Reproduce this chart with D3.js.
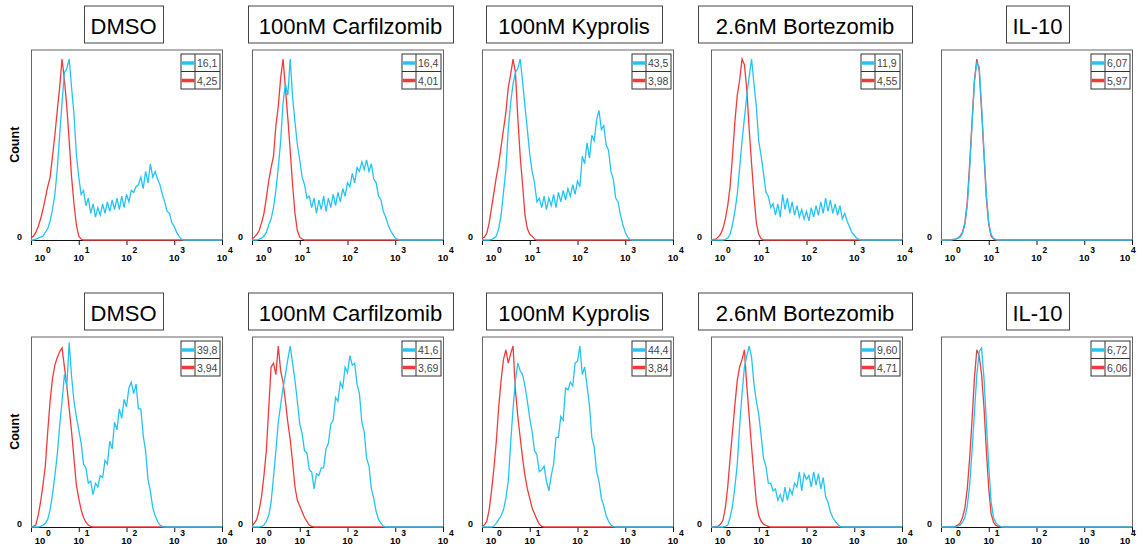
<!DOCTYPE html>
<html>
<head>
<meta charset="utf-8">
<script src="https://cdn.jsdelivr.net/npm/d3@7"></script>
<style>
  body { margin: 0; background: #fff; }
  text { font-family: "Liberation Sans", Arial, sans-serif; }
</style>
</head>
<body>
<script>
// histogram bins: index i sits at log10(x) = i * binStep, counts in % of max
const binStep = 0.05;

const titles = ["DMSO", "100nM Carfilzomib", "100nM Kyprolis", "2.6nM Bortezomib", "IL-10"];
const row1BlueMfi = ["16,1", "16,4", "43,5", "11,9", "6,07"];
const row1RedMfi = ["4,25", "4,01", "3,98", "4,55", "5,97"];
const row2BlueMfi = ["39,8", "41,6", "44,4", "9,60", "6,72"];
const row2RedMfi = ["3,94", "3,69", "3,84", "4,71", "6,06"];
const decades = [0, 1, 2, 3, 4];

// row 1
const dmsoRed1 = [1,2,4,7,11,16,22,28,33,44,55,68,80,95,84,70,52,33,19,8,2,0.5];
const dmsoBlue1 = [0,0,0.5,1,1.5,2,4,6,10,16,24,37,55,72,88,90,95,80,66,45,33,24,26,18,22,14,19,12,17,13,19,14,20,15,21,16,22,16,23,17,24,20,26,25,28,29,33,27,36,30,40,33,36,32,29,24,20,15,14,9,7,4,2,0.5];
const carfRed1 = [0.5,1.5,3,5,9,14,22,31,38,44,60,70,85,95,80,64,47,29,14,5,1.5,0.5];
const carfBlue1 = [0,0,0,0.5,1,2,4,8,11,17,26,38,52,72,82,76,95,75,62,50,42,33,29,22,23,17,22,14,21,16,23,15,22,17,24,18,25,20,27,23,30,28,35,30,38,36,41,37,42,36,40,32,30,23,21,15,12,8,5,3,1,0.3];
const kypRed1 = [1,1.5,3.5,9,17,25,33,40,49,58,67,80,87,95,88,64,44,29,13,6,3,2,0.5];
const kypBlue1 = [0,0,0,0,0.3,1,2,6,13,25,37,58,72,82,88,90,95,83,70,58,45,36,30,20,22,17,23,16,22,18,24,17,25,20,26,21,27,23,29,24,31,28,44,40,51,43,55,52,63,68,58,60,50,47,36,32,22,20,13,8,4,1.5,0.3];
const bortRed1 = [0,0.3,0.5,1.5,3,6,11,18,28,44,62,76,84,95,92,79,58,40,23,9,3,0.8];
const bortBlue1 = [0,0,0,0,0,0,0.3,1,3,8,15,24,38,52,64,76,86,95,82,70,52,44,35,25,23,17,19,13,19,12,24,16,22,14,20,13,18,12,16,11,15,10,17,12,18,13,20,14,22,15,21,14,19,13,18,11,14,10,7,4,2.5,1,0.3];
const il10Red1 = [0,0,0,0,0,0.3,0.5,1,2,4,9,20,40,62,84,95,89,68,45,22,8,2,0.5];
const il10Blue1 = [0,0,0,0,0,0.2,0.4,0.8,1.5,3.5,8,18,37,60,83,93,91,70,47,24,9,3,0.8,0.3];

// row 2
const dmsoRed2 = [0,0.3,1,6,13,22,32,50,66,78,85,89,92,94,84,74,62,50,36,22,15,9,5,2.5,1,0.3];
const dmsoBlue2 = [0,0,0,0,0.3,1,2,4,9,17,27,38,53,66,80,74,97,79,66,58,51,44,33,31,23,24,17,23,21,27,26,35,33,45,41,55,51,62,57,67,63,73,76,70,75,62,62,48,40,25,19,10,6,3,1,0.3];
const carfRed2 = [0.3,2,4,9,16,27,40,62,84,86,80,95,82,76,66,55,46,34,21,14,11,8,5,3,1,0.3];
const carfBlue2 = [0,0,0,0,0.3,1,3,6,13,26,40,55,64,73,80,88,95,86,77,66,54,49,40,39,30,29,20,28,27,31,31,41,44,54,56,68,66,76,73,84,81,90,85,86,75,70,55,50,36,32,20,15,8,4,2,0.5];
const kypRed2 = [0.3,1,3,9,19,31,45,63,77,88,93,86,91,95,72,58,47,36,27,20,15,10,7,4,1.5,0.3];
const kypBlue2 = [0,0,0,0,0,0.5,2,4,6,9,15,24,44,62,77,86,82,80,74,66,57,50,40,38,29,30,32,24,19,27,33,47,47,58,56,73,72,76,74,86,87,95,80,84,74,64,47,42,29,24,15,11,6,3,1,0.3];
const bortRed2 = [0,0,0.3,0.5,1.5,3.5,10,21,36,50,64,77,84,88,93,74,58,42,27,13,6,3,1.5,0.8,0.3];
const bortBlue2 = [0,0,0,0,0,0,0.3,1,5,11,21,33,53,70,84,90,95,89,75,66,59,48,36,32,23,23,19,20,14,17,13,21,14,20,17,23,21,29,19,28,25,27,21,29,22,28,20,26,16,13,8,5,3,1.5,0.3];
const il10Red2 = [0,0,0,0,0,0,0.3,1,2,5,10,20,36,56,78,93,90,80,63,40,20,7,2.5,0.8,0.3];
const il10Blue2 = [0,0,0,0,0,0,0,0.5,1,2.5,5,11,22,40,60,80,92,94,78,55,32,13,5,2,0.8,0.3];

const row1Red = [dmsoRed1, carfRed1, kypRed1, bortRed1, il10Red1];
const row1Blue = [dmsoBlue1, carfBlue1, kypBlue1, bortBlue1, il10Blue1];
const row2Red = [dmsoRed2, carfRed2, kypRed2, bortRed2, il10Red2];
const row2Blue = [dmsoBlue2, carfBlue2, kypBlue2, bortBlue2, il10Blue2];

// layout
const W = 1137, H = 549;
const plotLefts = [31, 252, 482, 711, 941];
const plotW = 191, plotH = 190.5;
const rowTops = [49.5, 336.5];
const labelDrop = [21, 17];   // baseline of "10" under the axis, per row
const titleBoxX = [84, 248, 486, 698, 1006];
const titleBoxW = [79, 205, 176, 214, 63];
const blue = "#23c4f2", red = "#f23a3a";

const svg = d3.select("body").append("svg")
    .attr("width", W)
    .attr("height", H);

const y = d3.scaleLinear().domain([0, 100]);

function drawPanel(row, col, redBins, blueBins, blueMfi, redMfi) {
    var left = plotLefts[col], top = rowTops[row];
    var x = d3.scaleLog().domain([1, 1e4]).range([0, plotW]);
    y.range([plotH, 0]);

    // title box
    var tb = svg.append("g");
    tb.append("rect")
        .attr("x", titleBoxX[col] + 0.5).attr("y", top - 43.5)
        .attr("width", titleBoxW[col]).attr("height", 37)
        .attr("fill", "#fff").attr("stroke", "#444");
    tb.append("text")
        .attr("x", titleBoxX[col] + titleBoxW[col] / 2).attr("y", top - 16)
        .attr("text-anchor", "middle")
        .attr("font-size", 22)
        .attr("fill", "#000")
        .text(titles[col]);

    var g = svg.append("g").attr("transform", "translate(" + left + "," + top + ")");

    // frame
    g.append("rect")
        .attr("x", 0.5).attr("y", 0.5)
        .attr("width", plotW).attr("height", plotH)
        .attr("fill", "none").attr("stroke", "#666");

    // x axis: minor then major ticks
    var minor = [];
    decades.slice(0, 4).forEach(function (d) {
        for (var k = 2; k <= 9; k++) minor.push(k * Math.pow(10, d));
    });
    var ax = g.append("g").attr("transform", "translate(0," + plotH + ")");
    ax.call(d3.axisBottom(x).tickValues(minor).tickSize(3).tickSizeOuter(0).tickFormat(""));
    ax.call(d3.axisBottom(x).tickValues(decades.map(function (d) { return Math.pow(10, d); }))
        .tickSize(5).tickSizeOuter(0).tickFormat(""));
    ax.selectAll("path, line").attr("stroke", "#111").attr("stroke-width", 1);

    decades.forEach(function (d) {
        var tx = x(Math.pow(10, d)) + (d === 0 ? 9 : 0);
        // keep the last label of the rightmost panel inside the page
        var room = W - left - 6;
        if (tx + 6 > room) tx = room - 6;
        g.append("text")
            .attr("x", tx).attr("y", plotH + labelDrop[row])
            .attr("text-anchor", "middle")
            .attr("font-size", 9.5).attr("font-weight", "bold")
            .text("10");
        g.append("text")
            .attr("x", tx + 6).attr("y", plotH + labelDrop[row] - 8)
            .attr("font-size", 8.5).attr("font-weight", "bold")
            .text(d);
    });

    // y zero label
    g.append("text")
        .attr("x", -9).attr("y", plotH)
        .attr("text-anchor", "end")
        .attr("font-size", 9).attr("font-weight", "bold")
        .text("0");

    if (col === 0) {
        svg.append("text")
            .attr("transform", "translate(19," + (top + plotH / 2) + ") rotate(-90)")
            .attr("text-anchor", "middle")
            .attr("font-size", 12.5).attr("font-weight", "bold")
            .text("Count");
    }

    // histogram curves
    var line = d3.line()
        .x(function (d) { return x(Math.pow(10, d[0])); })
        .y(function (d) { return y(d[1]); });

    function pts(bins) {
        var p = bins.map(function (v, i) { return [i * binStep, v]; });
        p.push([bins.length * binStep, 0]);
        p.push([4, 0]);
        return p;
    }

    g.append("path").datum(pts(redBins))
        .attr("d", line).attr("fill", "none")
        .attr("stroke", red).attr("stroke-width", 1.3);
    g.append("path").datum(pts(blueBins))
        .attr("d", line).attr("fill", "none")
        .attr("stroke", blue).attr("stroke-width", 1.3);

    // legend
    var lx = plotW - 41.5, ly = 4;
    var lg = g.append("g").attr("transform", "translate(" + lx + "," + ly + ")");
    lg.append("rect").attr("x", 0.5).attr("y", 0.5).attr("width", 39).attr("height", 35)
        .attr("fill", "#fff").attr("stroke", "#333");
    lg.append("line").attr("x1", 14.5).attr("x2", 14.5).attr("y1", 0.5).attr("y2", 35.5).attr("stroke", "#333");
    lg.append("line").attr("x1", 0.5).attr("x2", 39.5).attr("y1", 18).attr("y2", 18).attr("stroke", "#333");
    [[blue, blueMfi], [red, redMfi]].forEach(function (r, i) {
        var cy = 9.5 + i * 17.5;
        lg.append("line").attr("x1", 1).attr("x2", 14).attr("y1", cy).attr("y2", cy)
            .attr("stroke", r[0]).attr("stroke-width", 3.5);
        lg.append("text").attr("x", 16.5).attr("y", cy + 4)
            .attr("font-size", 10.5).attr("fill", "#444")
            .text(r[1]);
    });
}

for (var c = 0; c < 5; c++) {
    drawPanel(0, c, row1Red[c], row1Blue[c], row1BlueMfi[c], row1RedMfi[c]);
    drawPanel(1, c, row2Red[c], row2Blue[c], row2BlueMfi[c], row2RedMfi[c]);
}
</script>
</body>
</html>
